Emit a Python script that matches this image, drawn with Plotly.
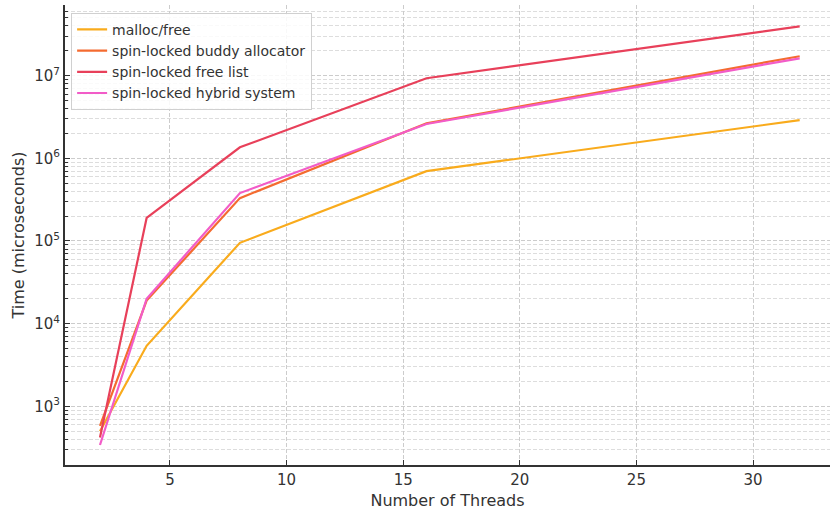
import plotly.graph_objects as go

threads = [2, 4, 8, 16, 32]
malloc_free = [500, 5400, 9.5e4, 7.0e5, 2.9e6]
buddy = [580, 1.9e4, 3.3e5, 2.65e6, 1.72e7]
free_list = [420, 1.9e5, 1.36e6, 9.3e6, 3.95e7]
hybrid = [340, 2.0e4, 3.8e5, 2.6e6, 1.62e7]

series = [
    ("malloc/free", malloc_free, "#F9AB1C"),
    ("spin-locked buddy allocator", buddy, "#F46B30"),
    ("spin-locked free list", free_list, "#E8405A"),
    ("spin-locked hybrid system", hybrid, "#F25CC8"),
]

x_ticks = [5, 10, 15, 20, 25, 30]
y_ticks = [1e3, 1e4, 1e5, 1e6, 1e7]
y_tick_text = ["10<sup>3</sup>", "10<sup>4</sup>", "10<sup>5</sup>", "10<sup>6</sup>", "10<sup>7</sup>"]
y_minor = [m * 10 ** e for e in range(2, 8) for m in range(2, 10)]

fig = go.Figure()
for name, vals, col in series:
    fig.add_trace(go.Scatter(x=threads, y=vals, mode="lines", name=name,
                             line=dict(color=col, width=2.2)))

font = "DejaVu Sans, sans-serif"
dash = "4px,2px"
fig.update_layout(
    width=830, height=511,
    margin=dict(l=65, r=0, t=5, b=46),
    paper_bgcolor="white", plot_bgcolor="white",
    font=dict(family=font, color="#333333", size=15),
    showlegend=True,
    legend=dict(x=0.008, y=0.983, xanchor="left", yanchor="top",
                bgcolor="rgba(255,255,255,0.85)", bordercolor="#d0d0d0", borderwidth=1,
                font=dict(size=14, color="#333333"), tracegroupgap=0, itemwidth=30),
    xaxis=dict(
        automargin=False,
        range=[0.5, 33.3], tickvals=x_ticks, ticks="inside", ticklen=5, tickcolor="#333333",
        showline=True, linecolor="#333333", linewidth=2, mirror=False,
        showgrid=True, gridcolor="#cccccc", griddash=dash, gridwidth=1, zeroline=False,
        title=dict(text="Number of Threads", font=dict(size=16), standoff=7),
        tickfont=dict(size=15),
    ),
    yaxis=dict(
        automargin=False,
        type="log", range=[2.29, 7.855], tickvals=y_ticks, ticktext=y_tick_text,
        ticks="inside", ticklen=5, tickcolor="#333333",
        showline=True, linecolor="#333333", linewidth=2, mirror=False,
        showgrid=True, gridcolor="#cccccc", griddash=dash, gridwidth=1, zeroline=False,
        minor=dict(tickvals=y_minor, ticks="inside", ticklen=3, tickcolor="#333333",
                   showgrid=True, gridcolor="#dddddd", griddash=dash, gridwidth=1),
        title=dict(text="Time (microseconds)", font=dict(size=16), standoff=6),
        tickfont=dict(size=15),
    ),
)

fig.write_html("out.html", config={"displayModeBar": False},
               post_script="document.body.style.margin='0';document.body.style.overflow='hidden';")
